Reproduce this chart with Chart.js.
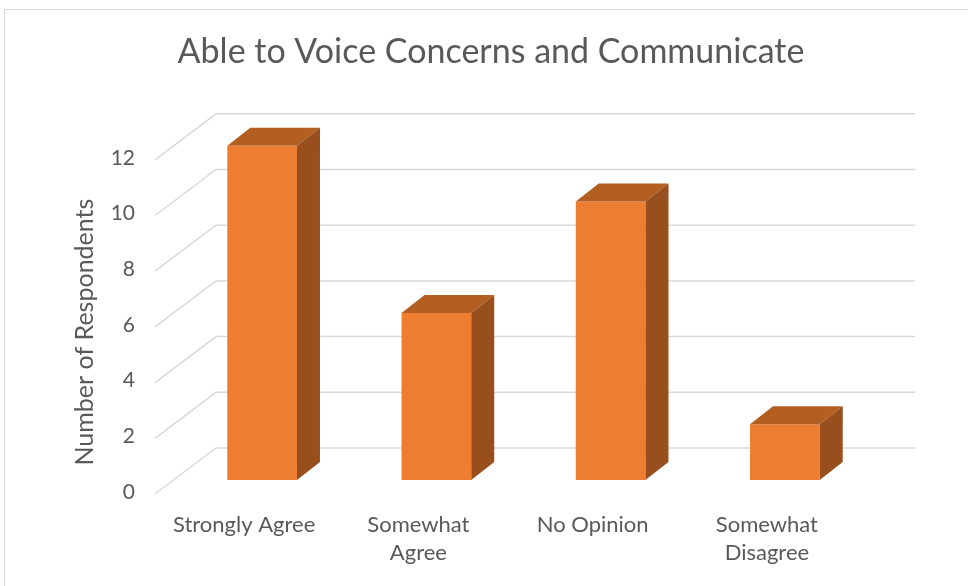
<!DOCTYPE html>
<html>
<head>
<meta charset="utf-8">
<script src="https://cdn.jsdelivr.net/npm/chart.js@4"></script>
<style>
  html, body { margin: 0; padding: 0; background: #fff; }
  #wrap { width: 968px; height: 586px; position: relative; }
</style>
</head>
<body>
<div id="wrap"><canvas id="voiceChart" width="968" height="586"></canvas></div>
<script>
// Chart data
const categories = [['Strongly Agree'], ['Somewhat', 'Agree'], ['No Opinion'], ['Somewhat', 'Disagree']];
const respondents = [12, 6, 10, 2];
const yTicks = [0, 2, 4, 6, 8, 10, 12];

// 3D look
const DEPTH_X = 23, DEPTH_Y = 18;
const FRONT_COLOR = '#ED7D31';
const TOP_COLOR = '#B45F22';
const SIDE_COLOR = '#984F1D';
const GRID_COLOR = '#d9d9d9';
const TEXT_COLOR = '#595959';

// Back wall + side wall grid lines, bar depth faces
const wallPlugin = {
    id: 'wall',
    beforeDraw(chart) {
        const ctx = chart.ctx;
        // outer frame
        ctx.save();
        ctx.strokeStyle = '#d9d9d9';
        ctx.lineWidth = 1;
        ctx.strokeRect(4.5, 9.5, 1000, 1000);
        ctx.restore();
    },
    beforeDatasetsDraw(chart) {
        const ctx = chart.ctx;
        const y = chart.scales.y;
        ctx.save();
        ctx.strokeStyle = GRID_COLOR;
        ctx.lineWidth = 1.5;
        yTicks.forEach(v => {
            const p = y.getPixelForValue(v);
            const yb = p - 32, yf = p + 14;
            ctx.beginPath();
            ctx.moveTo(155, yf);
            ctx.lineTo(216, yb);
            ctx.lineTo(915, yb);
            ctx.stroke();
        });
        ctx.restore();
    },
    afterDatasetsDraw(chart) {
        const ctx = chart.ctx;
        chart.getDatasetMeta(0).data.forEach(bar => {
            const left = bar.x - bar.width / 2;
            const right = bar.x + bar.width / 2;
            const top = bar.y;
            const base = bar.base;
            ctx.save();
            // top face
            ctx.fillStyle = TOP_COLOR;
            ctx.beginPath();
            ctx.moveTo(left, top);
            ctx.lineTo(left + DEPTH_X, top - DEPTH_Y);
            ctx.lineTo(right + DEPTH_X, top - DEPTH_Y);
            ctx.lineTo(right, top);
            ctx.closePath();
            ctx.fill();
            // side face
            ctx.fillStyle = SIDE_COLOR;
            ctx.beginPath();
            ctx.moveTo(right, top);
            ctx.lineTo(right + DEPTH_X, top - DEPTH_Y);
            ctx.lineTo(right + DEPTH_X, base - DEPTH_Y);
            ctx.lineTo(right, base);
            ctx.closePath();
            ctx.fill();
            ctx.restore();
        });
    }
};

new Chart(document.getElementById('voiceChart'), {
    type: 'bar',
    data: {
        labels: categories,
        datasets: [{
            data: respondents,
            backgroundColor: FRONT_COLOR,
            borderWidth: 0,
            categoryPercentage: 1,
            barPercentage: 0.4
        }]
    },
    options: {
        responsive: false,
        animation: false,
        layout: { padding: { left: 14, right: 0, top: 0, bottom: 0 } },
        plugins: {
            legend: { display: false },
            tooltip: { enabled: false },
            title: {
                display: true,
                text: 'Able to Voice Concerns and Communicate',
                color: TEXT_COLOR,
                font: { family: 'Lato', size: 34, weight: 'normal', lineHeight: 1.2 },
                padding: { top: 32, bottom: 73 }
            }
        },
        scales: {
            x: {
                grid: { display: false, drawTicks: false },
                border: { display: false },
                ticks: {
                    color: TEXT_COLOR,
                    font: { family: 'Lato', size: 22, lineHeight: 1.27 },
                    padding: 31,
                    labelOffset: -18,
                    maxRotation: 0,
                    autoSkip: false
                },
                afterFit(scale) { scale.height = 106; }
            },
            y: {
                min: 0,
                max: 12,
                grid: { display: false, drawTicks: false },
                border: { display: false },
                ticks: {
                    stepSize: 2,
                    color: TEXT_COLOR,
                    font: { family: 'Lato', size: 21 },
                    padding: 40,
                    labelOffset: 12
                },
                title: {
                    display: true,
                    text: 'Number of Respondents      ',
                    color: TEXT_COLOR,
                    font: { family: 'Lato', size: 25, weight: 'normal' },
                    padding: { top: 56, bottom: 0 }
                },
                afterFit(scale) { scale.width = 161; }
            },
            // empty right axis, only reserves the space right of the plot
            yRight: {
                position: 'right',
                grid: { display: false, drawTicks: false },
                border: { display: false },
                ticks: { display: false },
                afterFit(scale) { scale.width = 96; }
            }
        }
    },
    plugins: [wallPlugin]
});
</script>
</body>
</html>
